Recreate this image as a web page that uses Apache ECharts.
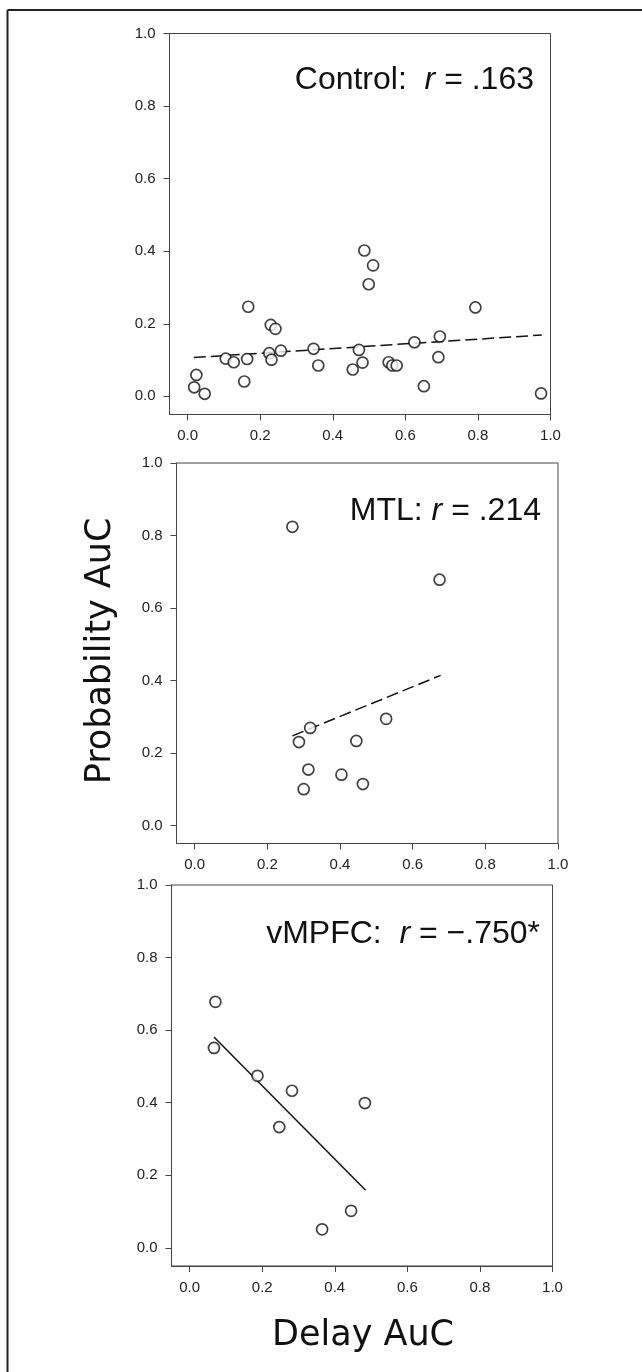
<!DOCTYPE html>
<html>
<head>
<meta charset="utf-8">
<script src="https://cdn.jsdelivr.net/npm/echarts@6/dist/echarts.min.js"></script>
<style>
html,body{margin:0;padding:0;background:#fff;}
#c{width:642px;height:1372px;}
</style>
</head>
<body>
<div id="c"></div>
<script>
// ---- Data ----
const tickValues = [0, 0.2, 0.4, 0.6, 0.8, 1.0];

const controlDelay = [0.024, 0.018, 0.047, 0.105, 0.127, 0.156, 0.164, 0.167, 0.229, 0.242, 0.225, 0.231, 0.257, 0.347, 0.360, 0.455, 0.472, 0.482, 0.487, 0.511, 0.499, 0.554, 0.564, 0.576, 0.625, 0.651, 0.695, 0.691, 0.793, 0.974];
const controlProb  = [0.059, 0.025, 0.007, 0.104, 0.094, 0.041, 0.103, 0.247, 0.197, 0.186, 0.119, 0.101, 0.126, 0.131, 0.085, 0.074, 0.128, 0.093, 0.402, 0.361, 0.309, 0.094, 0.085, 0.085, 0.149, 0.028, 0.165, 0.108, 0.245, 0.008];
const controlFitX = [0.017, 0.976];
const controlFitY = [0.107, 0.169];

const mtlDelay = [0.269, 0.674, 0.318, 0.287, 0.527, 0.445, 0.313, 0.300, 0.404, 0.463];
const mtlProb  = [0.824, 0.678, 0.269, 0.230, 0.294, 0.233, 0.154, 0.100, 0.140, 0.114];
const mtlFitX = [0.269, 0.677];
const mtlFitY = [0.247, 0.414];

const vmpfcDelay = [0.071, 0.067, 0.187, 0.282, 0.247, 0.483, 0.365, 0.445];
const vmpfcProb  = [0.678, 0.551, 0.474, 0.433, 0.333, 0.399, 0.051, 0.102];
const vmpfcFitX = [0.067, 0.485];
const vmpfcFitY = [0.581, 0.159];

const panelNames = ['Control:  ', 'MTL: ', 'vMPFC:  '];
const panelR = [' = .163', ' = .214', ' = \u2212.750*'];
const xTitle = 'Delay AuC';
const yTitle = 'Probability AuC';

// ---- Layout ----
const grids = [
  {left: 169.5, top: 33.5, width: 381, height: 381},
  {left: 176.5, top: 463, width: 381.5, height: 380.5},
  {left: 171.5, top: 885, width: 381, height: 381}
];
const textPos = [
  {x: 534, y: 80.5},
  {x: 541, y: 511.5},
  {x: 540, y: 934.5}
];
const dashTypes = [[12, 5], [12, 5], 'solid'];

const pts = [
  [controlDelay, controlProb, controlFitX, controlFitY],
  [mtlDelay, mtlProb, mtlFitX, mtlFitY],
  [vmpfcDelay, vmpfcProb, vmpfcFitX, vmpfcFitY]
];

const FONT = '"Liberation Sans", Arial, Helvetica, sans-serif';
const axisColor = '#444';

function makeAxis(i) {
  return {
    type: 'value',
    gridIndex: i,
    min: -0.05,
    max: 1.0,
    splitLine: {show: false},
    axisLine: {show: true, onZero: false, lineStyle: {color: axisColor, width: 1}},
    axisTick: {show: true, inside: false, length: 6, customValues: tickValues, lineStyle: {color: axisColor, width: 1}},
    axisLabel: {
      show: true, margin: 14, customValues: tickValues,
      formatter: v => Number(v).toFixed(1),
      color: '#222', fontSize: 15, fontFamily: FONT
    }
  };
}

const series = [];
const xAxes = [], yAxes = [];
const graphics = [];
pts.forEach((p, i) => {
  xAxes.push(makeAxis(i));
  yAxes.push(makeAxis(i));
  const [dx, py, fx, fy] = p;
  series.push({
    type: 'line',
    xAxisIndex: i, yAxisIndex: i,
    data: fx.map((v, k) => [v, fy[k]]),
    symbol: 'none',
    silent: true,
    z: 2,
    lineStyle: {color: '#111', width: 1.5, type: dashTypes[i]}
  });
  series.push({
    type: 'scatter',
    xAxisIndex: i, yAxisIndex: i,
    data: dx.map((v, k) => [v, py[k]]),
    symbol: 'circle',
    symbolSize: 11,
    z: 3,
    itemStyle: {color: '#fff', borderColor: '#111', borderWidth: 1.7}
  });
  graphics.push({
    type: 'text',
    x: textPos[i].x, y: textPos[i].y,
    style: {
      text: '{a|' + panelNames[i] + '}{i|r}{a|' + panelR[i] + '}',
      align: 'right', verticalAlign: 'middle',
      rich: {
        a: {fontSize: 32, fontFamily: FONT, fill: '#111', color: '#111'},
        i: {fontSize: 32, fontFamily: FONT, fontStyle: 'italic', fill: '#111', color: '#111'}
      }
    }
  });
});

// outer frame (left and top)
graphics.push({type: 'line', shape: {x1: 7.5, y1: 10, x2: 642, y2: 10}, style: {stroke: '#222', lineWidth: 2}});
graphics.push({type: 'line', shape: {x1: 7.5, y1: 10, x2: 7.5, y2: 1372}, style: {stroke: '#222', lineWidth: 2}});
// axis titles
graphics.push({
  type: 'text', x: 101, y: 651, rotation: Math.PI / 2,
  style: {text: yTitle, align: 'center', verticalAlign: 'middle', fontSize: 35, fontFamily: '"DejaVu Sans", sans-serif', fill: '#111'}
});
graphics.push({
  type: 'text', x: 363, y: 1336,
  style: {text: xTitle, align: 'center', verticalAlign: 'middle', fontSize: 35, fontFamily: '"DejaVu Sans", sans-serif', fill: '#111'}
});

const chart = echarts.init(document.getElementById('c'), null, {renderer: 'canvas'});
chart.setOption({
  backgroundColor: '#fff',
  animation: false,
  grid: grids.map(g => Object.assign({show: true, borderColor: axisColor, borderWidth: 1, backgroundColor: 'transparent', containLabel: false}, g)),
  xAxis: xAxes,
  yAxis: yAxes,
  series: series,
  graphic: graphics
});
</script>
</body>
</html>
